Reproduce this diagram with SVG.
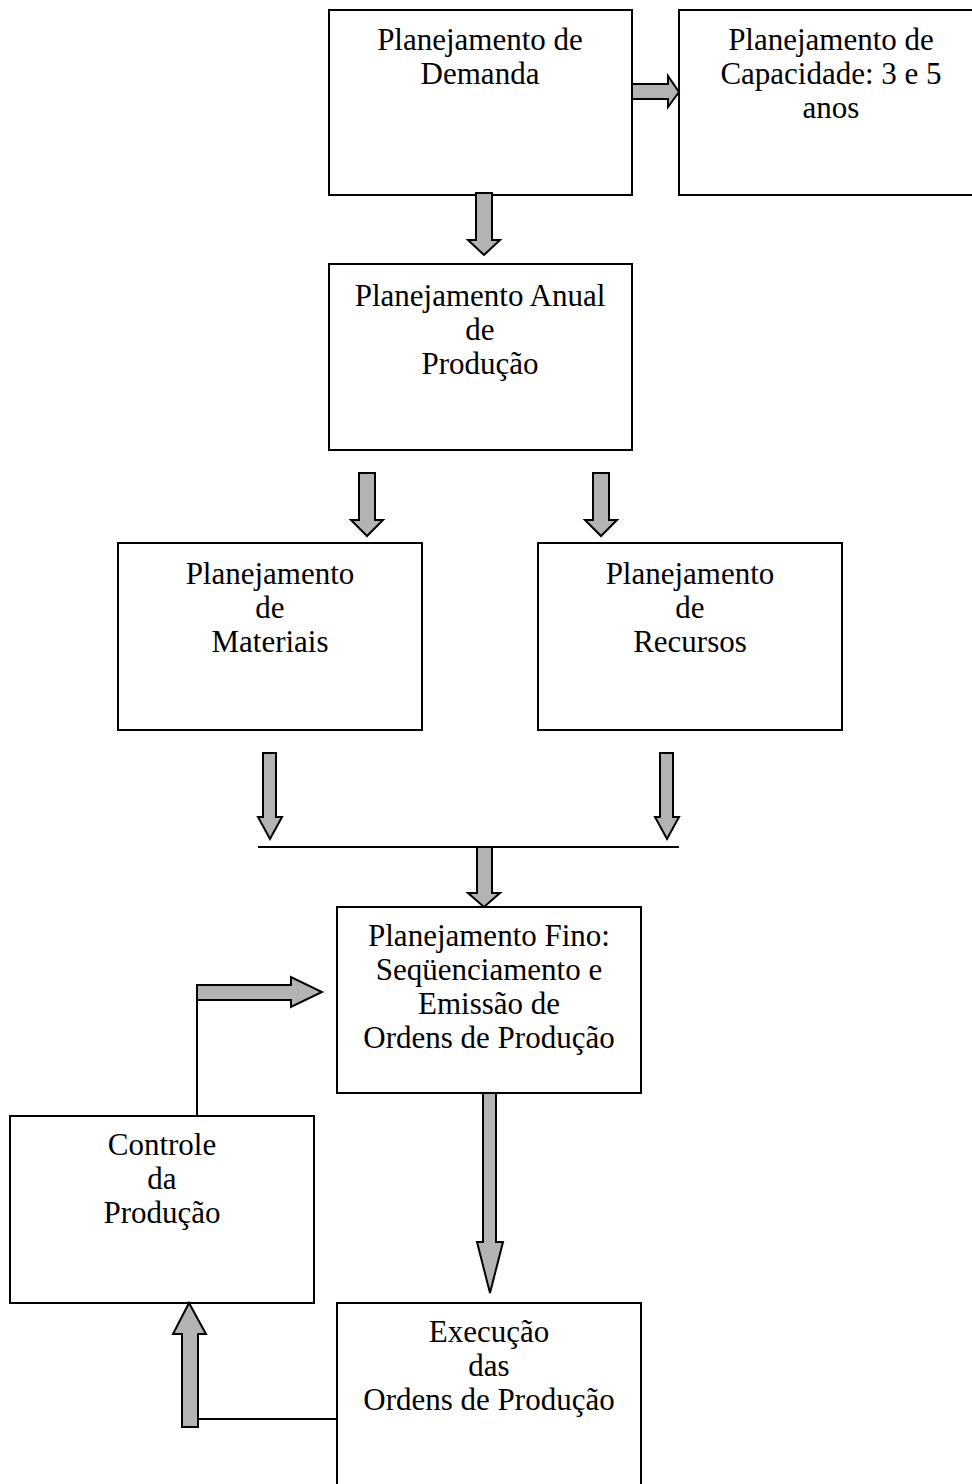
<svg xmlns="http://www.w3.org/2000/svg" width="972" height="1484" viewBox="0 0 972 1484">
<style>
.box{fill:#fff;stroke:#000;stroke-width:2}
.arr{fill:#b3b3b3;stroke:#000;stroke-width:2;stroke-linejoin:miter}
.ln{fill:none;stroke:#000;stroke-width:2}
text{font-family:"Liberation Serif","Times New Roman",serif;font-size:31px;fill:#000;text-anchor:middle}
</style>
<rect width="972" height="1484" fill="#fff"/>
<g id="n1"><rect class="box" x="329" y="10" width="303" height="185"/>
<text x="480" y="50">Planejamento de</text><text x="480" y="84">Demanda</text></g>
<g id="n2"><rect class="box" x="679" y="10" width="300" height="185"/>
<text x="831" y="50">Planejamento de</text><text x="831" y="84">Capacidade: 3 e 5</text><text x="831" y="118">anos</text></g>
<g id="n3"><rect class="box" x="329" y="264" width="303" height="186"/>
<text x="480" y="306">Planejamento Anual</text><text x="480" y="340">de</text><text x="480" y="374">Produção</text></g>
<g id="n4"><rect class="box" x="118" y="543" width="304" height="187"/>
<text x="270" y="584">Planejamento</text><text x="270" y="618">de</text><text x="270" y="652">Materiais</text></g>
<g id="n5"><rect class="box" x="538" y="543" width="304" height="187"/>
<text x="690" y="584">Planejamento</text><text x="690" y="618">de</text><text x="690" y="652">Recursos</text></g>
<g id="n6"><rect class="box" x="337" y="907" width="304" height="186"/>
<text x="489" y="946">Planejamento Fino:</text><text x="489" y="980">Seqüenciamento e</text><text x="489" y="1014">Emissão de</text><text x="489" y="1048">Ordens de Produção</text></g>
<g id="n7"><rect class="box" x="10" y="1116" width="304" height="187"/>
<text x="162" y="1155">Controle</text><text x="162" y="1189">da</text><text x="162" y="1223">Produção</text></g>
<g id="n8"><rect class="box" x="337" y="1303" width="304" height="200"/>
<text x="489" y="1342">Execução</text><text x="489" y="1376">das</text><text x="489" y="1410">Ordens de Produção</text></g>
<g id="connectors">
<polygon class="arr" points="632,84 668,84 668,76 679,92 668,107 668,99 632,99"/>
<polygon class="arr" points="476,193 492,193 492,240 500,240 484,255 468,240 476,240"/>
<polygon class="arr" points="359,473 375,473 375,520 383,520 367,536 351,520 359,520"/>
<polygon class="arr" points="593,473 609,473 609,520 617,520 601,536 585,520 593,520"/>
<polygon class="arr" points="263,753 276,753 276,817 282,817 270,839 258,817 263,817"/>
<polygon class="arr" points="660,753 673,753 673,817 679,817 667,839 655,817 660,817"/>
<line class="ln" x1="258" y1="847" x2="679" y2="847"/>
<polygon class="arr" points="477,847 492,847 492,893 500,893 484,907 468,893 477,893"/>
<polygon class="arr" points="483,1093 496,1093 496,1242 503,1242 490,1293 477,1242 483,1242"/>
<line class="ln" x1="197" y1="1000" x2="197" y2="1116"/>
<polygon class="arr" points="197,985 291,985 291,977 322,992 291,1007 291,1000 197,1000"/>
<polygon class="arr" points="182,1427 198,1427 198,1334 206,1334 189,1303 173,1334 182,1334"/>
<line class="ln" x1="198" y1="1419" x2="337" y2="1419"/>
</g>
</svg>
